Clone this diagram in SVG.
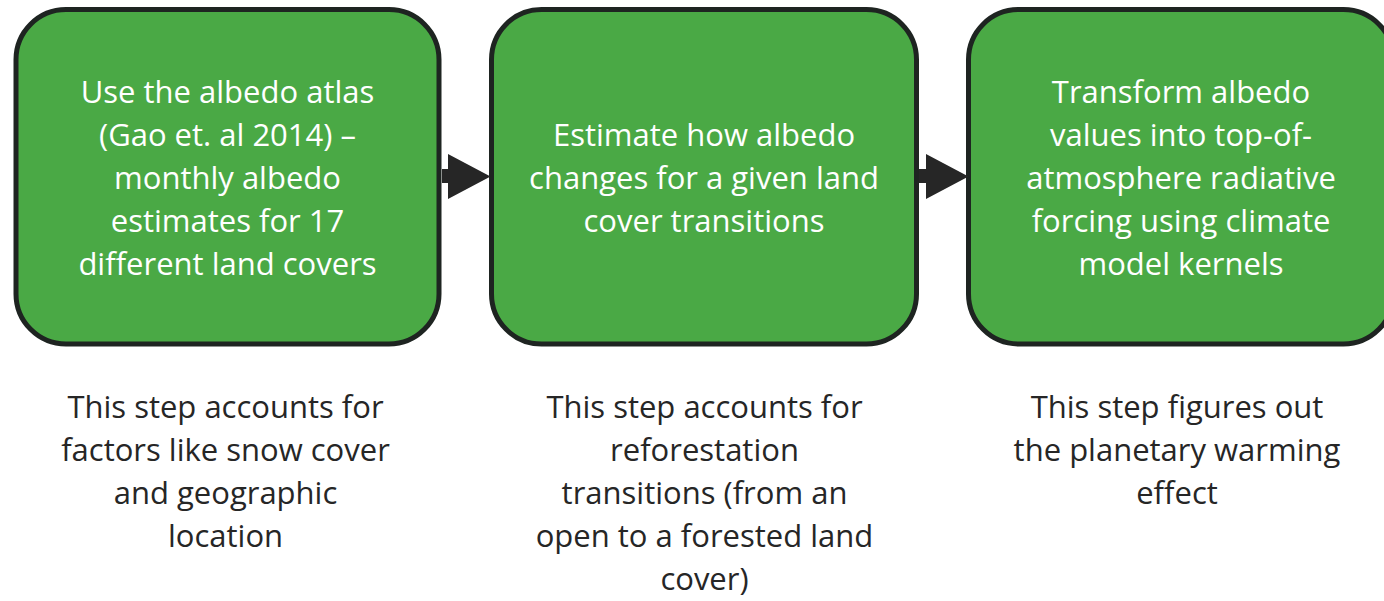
<svg xmlns="http://www.w3.org/2000/svg" width="1384" height="601" viewBox="0 0 1384 601">
<style>
.box{fill:#4AA945;stroke:#1E2421;stroke-width:5}
.t{font-family:"Open Sans","Liberation Sans",sans-serif;font-size:31px;text-anchor:middle}
.w{fill:#FFFFFF}
.d{fill:#262626}
.arr{fill:#262626}
</style>
<rect width="1384" height="601" fill="#FFFFFF"/>
<g id="node1">
<rect class="box" x="16" y="9.5" width="423" height="334.5" rx="50" ry="50"/>
<text class="t w" x="227.5" y="103">Use the albedo atlas</text>
<text class="t w" x="227.5" y="146">(Gao et. al 2014) –</text>
<text class="t w" x="227.5" y="189">monthly albedo</text>
<text class="t w" x="227.5" y="232">estimates for 17</text>
<text class="t w" x="227.5" y="275">different land covers</text>
</g>
<g id="node2">
<rect class="box" x="491.5" y="9.5" width="425" height="334.5" rx="50" ry="50"/>
<text class="t w" x="704" y="146">Estimate how albedo</text>
<text class="t w" x="704" y="189">changes for a given land</text>
<text class="t w" x="704" y="232">cover transitions</text>
</g>
<g id="node3">
<rect class="box" x="968.5" y="9.5" width="425" height="334.5" rx="50" ry="50"/>
<text class="t w" x="1181" y="103">Transform albedo</text>
<text class="t w" x="1181" y="146">values into top-of-</text>
<text class="t w" x="1181" y="189">atmosphere radiative</text>
<text class="t w" x="1181" y="232">forcing using climate</text>
<text class="t w" x="1181" y="275">model kernels</text>
</g>
<g id="connectors">
<polygon class="arr" points="442,169 448,169 448,154 490.5,176.5 448,199 448,183 442,183"/>
<polygon class="arr" points="919,169 926,169 926,154 968.5,176.5 926,199 926,183 919,183"/>
</g>
<g id="note1">
<text class="t d" x="225.5" y="418">This step accounts for</text>
<text class="t d" x="225.5" y="461">factors like snow cover</text>
<text class="t d" x="225.5" y="504">and geographic</text>
<text class="t d" x="225.5" y="547">location</text>
</g>
<g id="note2">
<text class="t d" x="704.5" y="418">This step accounts for</text>
<text class="t d" x="704.5" y="461">reforestation</text>
<text class="t d" x="704.5" y="504">transitions (from an</text>
<text class="t d" x="704.5" y="547">open to a forested land</text>
<text class="t d" x="704.5" y="590">cover)</text>
</g>
<g id="note3">
<text class="t d" x="1177" y="418">This step figures out</text>
<text class="t d" x="1177" y="461">the planetary warming</text>
<text class="t d" x="1177" y="504">effect</text>
</g>
</svg>
